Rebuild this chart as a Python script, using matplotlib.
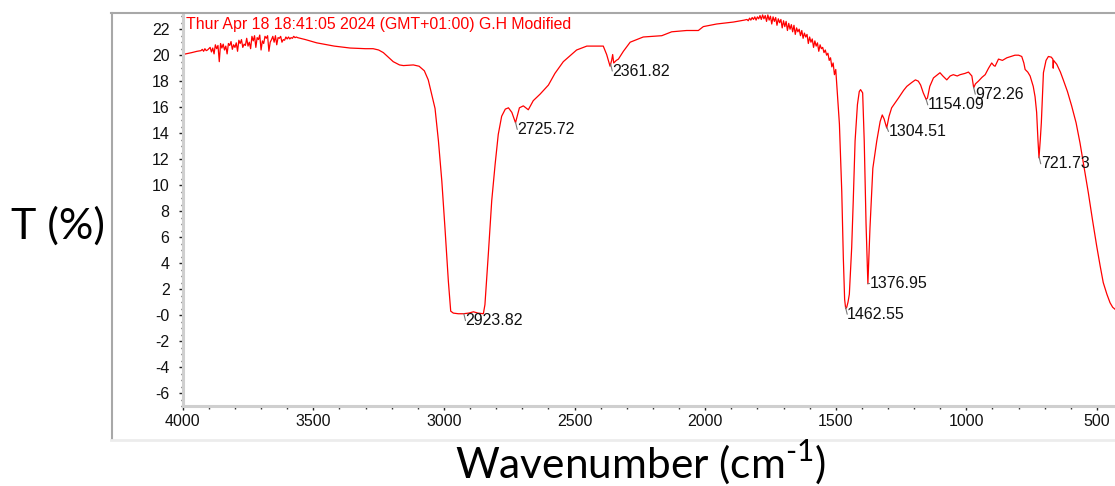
import numpy as np
import matplotlib
matplotlib.use("Agg")
import matplotlib.pyplot as plt
from matplotlib.lines import Line2D
from matplotlib.ticker import MultipleLocator

plt.rcParams['font.family'] = ['Liberation Sans', 'DejaVu Sans']
plt.rcParams['axes.unicode_minus'] = False
plt.rcParams['mathtext.fontset'] = 'custom'
plt.rcParams['mathtext.rm'] = 'Lato'

# ---------------- data ----------------
wavenumber = [
    4000, 3965, 3945, 3930, 3925, 3920, 3915, 3910, 3905, 3900, 3895, 3890, 3885, 3880, 3875,
    3870, 3865, 3860, 3855, 3850, 3845, 3840, 3835, 3830, 3825, 3820, 3815, 3810, 3805,
    3800, 3795, 3790, 3785, 3780, 3775, 3770, 3765, 3760, 3755, 3750, 3745, 3740, 3735,
    3730, 3725, 3720, 3715, 3710, 3705, 3700, 3695, 3690, 3685, 3680, 3675, 3670, 3665,
    3660, 3655, 3650, 3645, 3640, 3635, 3630, 3625, 3620, 3615, 3610, 3605, 3600, 3595,
    3590, 3585, 3580, 3575, 3570, 3565, 3560,
    3530, 3487, 3420, 3359, 3300, 3271, 3250, 3232, 3210, 3194, 3170, 3155, 3117, 3095,
    3075, 3060, 3053, 3040, 3034, 3021, 3008, 2996, 2983, 2974, 2964, 2945, 2926, 2905,
    2887, 2870, 2849, 2843, 2830, 2817, 2804, 2792, 2779, 2765, 2753, 2740, 2726, 2711,
    2696, 2677, 2658, 2632, 2600, 2575, 2543, 2492, 2453, 2390, 2377, 2364, 2358, 2354,
    2350, 2340, 2332, 2313, 2287, 2237, 2166, 2128, 2071, 2026, 2007, 1956, 1892, 1850,
    1840, 1835, 1830, 1825, 1820, 1815, 1810, 1805, 1800, 1795, 1790, 1785, 1780, 1775,
    1770, 1765, 1760, 1755, 1750, 1745, 1740, 1735, 1730, 1725, 1720, 1715, 1710, 1705,
    1700, 1695, 1690, 1685, 1680, 1675, 1670, 1665, 1660, 1655, 1650, 1645, 1640, 1635,
    1630, 1625, 1620, 1615, 1610, 1605, 1600, 1595, 1590, 1585, 1580, 1575, 1570, 1565,
    1560, 1555, 1550, 1545, 1540, 1535, 1530, 1525, 1520, 1515, 1510, 1505, 1500,
    1496, 1486, 1477, 1471, 1466, 1462, 1458, 1453, 1448, 1439, 1433, 1426, 1417, 1410,
    1405, 1397, 1391, 1384, 1377, 1373, 1369, 1358, 1343, 1330, 1322, 1315, 1305, 1296,
    1286, 1260, 1240, 1228, 1209, 1195, 1184, 1175, 1165, 1154, 1149, 1140, 1126, 1110,
    1101, 1090, 1075, 1062, 1050, 1035, 1024, 1005, 992, 979, 972, 965, 954, 940,
    928, 915, 903, 895, 890, 877, 862, 845, 830, 814, 800, 788, 780, 775,
    765, 756, 744, 737, 731, 726, 722, 717, 713, 705, 695, 686, 675, 669,
    667.5, 666, 654, 640, 629, 613, 597, 580, 565, 549, 533, 517, 501, 488,
    476, 462, 450, 440, 431,
]
transmittance = [
    20.05, 20.2, 20.3, 20.35, 20.45, 20.3, 20.5, 20.35, 20.4, 20.5, 20.6, 20.25, 20.55, 20.1, 20.8,
    20.5, 20.75, 19.5, 20.9, 20.55, 20.85, 20.4, 20.7, 20.1, 20.9, 20.75, 21.05, 20.45, 20.8,
    20.6, 20.95, 20.3, 21.15, 20.9, 21.2, 20.6, 20.85, 20.75, 21.3, 20.7, 21.0, 20.5, 21.45,
    21.1, 21.5, 20.6, 21.35, 21.2, 21.55, 20.4, 21.1, 20.9, 21.45, 21.3, 21.5, 20.3, 21.0,
    21.2, 21.45, 21.0, 21.5, 20.8, 21.35, 21.3, 21.45, 21.0, 21.2, 21.15, 21.4, 21.25, 21.4,
    21.25, 21.35, 21.3, 21.45, 21.35, 21.4, 21.35,
    21.2, 20.95, 20.7, 20.55, 20.5, 20.5, 20.4, 20.2, 19.8, 19.5, 19.25, 19.2, 19.25, 19.15,
    18.8, 18.1, 17.5, 16.4, 15.9, 13.4, 10.3, 6.7, 2.6, 0.3, 0.15, 0.1, 0.1, 0.15,
    0.25, 0.15, 0.1, 0.8, 4.7, 8.8, 11.6, 13.9, 15.3, 15.85, 15.95, 15.6, 14.8, 15.95,
    16.1, 15.8, 16.5, 17.0, 17.7, 18.6, 19.5, 20.4, 20.7, 20.7, 20.05, 19.15, 19.6, 20.05,
    19.4, 19.6, 19.7, 20.3, 21.0, 21.4, 21.5, 21.8, 21.9, 21.9, 22.2, 22.4, 22.55, 22.7,
    22.75, 22.65, 22.85, 22.7, 22.9, 22.75, 22.95, 22.7, 22.95, 22.8, 23.05, 22.75, 23.1, 22.8,
    23.05, 22.6, 23.1, 22.7, 23.0, 22.4, 22.95, 22.6, 22.9, 22.3, 22.8, 22.5, 22.75, 22.1,
    22.65, 22.2, 22.6, 21.9, 22.45, 22.0, 22.35, 21.8, 22.3, 21.6, 22.1, 21.8, 22.0, 21.5,
    21.9, 21.3, 21.7, 21.4, 21.6, 20.9, 21.4, 21.0, 21.25, 20.6, 21.1, 20.7, 20.95, 20.3,
    20.8, 20.5, 20.6, 20.2, 20.4, 20.0, 20.15, 19.6, 19.8, 19.1, 19.4, 18.5, 18.9,
    17.7, 14.7, 9.5, 4.4, 1.2, 0.5, 0.6, 1.0, 1.6, 5.2, 8.8, 13.4, 16.2, 17.2,
    17.35, 17.1, 13.4, 7.0, 2.4, 4.5, 6.7, 11.3, 13.4, 14.9, 15.4, 15.1, 14.4, 15.3,
    15.95, 16.7, 17.3, 17.6, 17.9, 18.1, 18.0, 17.7, 17.1, 16.6, 16.7, 17.6, 18.25, 18.5,
    18.65, 18.4, 18.1, 18.4, 18.5, 18.4, 18.5, 18.6, 18.7, 18.4, 17.5, 17.8, 18.0, 18.3,
    18.5, 19.0, 19.4, 19.2, 19.15, 19.7, 19.6, 19.8, 19.9, 20.0, 20.0, 19.9, 19.4, 18.9,
    18.7, 18.4, 17.6, 16.8, 15.6, 13.5, 12.1, 13.5, 14.8, 18.65, 19.6, 19.9, 19.85, 19.7,
    19.0, 19.6, 19.3, 18.7, 18.1, 17.2, 16.1, 14.8, 13.25, 11.3, 9.4, 7.3, 5.3, 3.8,
    2.5, 1.6, 0.95, 0.6, 0.45,
]

peak_positions = [2923.82, 2725.72, 2361.82, 1462.55, 1376.95, 1304.51, 1154.09, 972.26, 721.73]
peak_labels = ["2923.82", "2725.72", "2361.82", "1462.55", "1376.95", "1304.51", "1154.09", "972.26", "721.73"]

x_ticks = [4000, 3500, 3000, 2500, 2000, 1500, 1000, 500]
x_tick_labels = ["4000", "3500", "3000", "2500", "2000", "1500", "1000", "500"]
y_ticks = [-6, -4, -2, 0, 2, 4, 6, 8, 10, 12, 14, 16, 18, 20, 22]
y_tick_labels = ["-6", "-4", "-2", "-0", "2", "4", "6", "8", "10", "12", "14", "16", "18", "20", "22"]

header_text = "Thur Apr 18 18:41:05 2024 (GMT+01:00) G.H Modified"
y_title = "T (%)"
x_title = "Wavenumber (cm$^{\\text{-1}}$)"

# ---------------- figure ----------------
W, H = 1115, 486
fig = plt.figure(figsize=(W / 100, H / 100), dpi=100)
ax_left, ax_right, ax_top, ax_bottom = 182.7, 1115, 14, 406
ax = fig.add_axes([ax_left / W, 1 - ax_bottom / H, (ax_right - ax_left) / W, (ax_bottom - ax_top) / H])

ax.plot(wavenumber, transmittance, color="#ff0000", lw=0.9)
ax.set_xlim(4000, 431)
ax.set_ylim(-7.0, 23.17)

ax.set_xticks(x_ticks)
ax.set_xticklabels(x_tick_labels)
ax.set_yticks(y_ticks)
ax.set_yticklabels(y_tick_labels)
ax.xaxis.set_minor_locator(MultipleLocator(100))
ax.yaxis.set_minor_locator(MultipleLocator(0.5))
ax.tick_params(axis="both", which="major", direction="out", length=3, width=1,
               color="#222222", labelsize=11.5, labelcolor="#111111")
ax.tick_params(axis="both", which="minor", direction="out", length=1.8, width=1, color="#333333")
ax.tick_params(axis="y", which="major", pad=6.5)
ax.tick_params(axis="x", which="major", pad=3)

for s in ["top", "right"]:
    ax.spines[s].set_visible(False)
for s in ["left", "bottom"]:
    ax.spines[s].set_color("#cfcfcf")
    ax.spines[s].set_linewidth(2.2)

ax.text(0.004, 0.972, header_text, transform=ax.transAxes, color="#ff0000",
        fontsize=11.4, ha="left", va="center")

# peak labels
spec_x = np.array(wavenumber[::-1], dtype=float)
spec_y = np.array(transmittance[::-1], dtype=float)
label_offsets = {"1376.95": (1.2, 0.0), "1304.51": (1.2, -3.0), "1154.09": (1.2, -4.0)}
for pos, lab in zip(peak_positions, peak_labels):
    yv = float(np.interp(pos, spec_x, spec_y))
    dx, dy = label_offsets.get(lab, (1.2, -5.0))
    ax.annotate(lab, xy=(pos, yv), xytext=(dx, dy), textcoords="offset points",
                ha="left", va="center", fontsize=11.5, color="#111111",
                arrowprops=dict(arrowstyle="-", color="#777777", lw=0.8,
                                shrinkA=0, shrinkB=0, relpos=(0, 0.5)))

# outer frame of the screenshot
fig.add_artist(Line2D([111 / W, 1.0], [1 - 13 / H, 1 - 13 / H], color="#a8a8a8", lw=1.5))
fig.add_artist(Line2D([111.5 / W, 111.5 / W], [1 - 13 / H, 1 - 439 / H], color="#a8a8a8", lw=1.5))
fig.add_artist(Line2D([111 / W, 1.0], [1 - 440 / H, 1 - 440 / H], color="#ececec", lw=2.0))

fig.text(58 / W, 1 - 226 / H, y_title, fontsize=31, family="Lato", ha="center", va="center")
fig.text(641 / W, 1 - 477 / H, x_title, fontsize=30.5, family="Lato", ha="center", va="baseline")

fig.savefig("out.png", dpi=100)
